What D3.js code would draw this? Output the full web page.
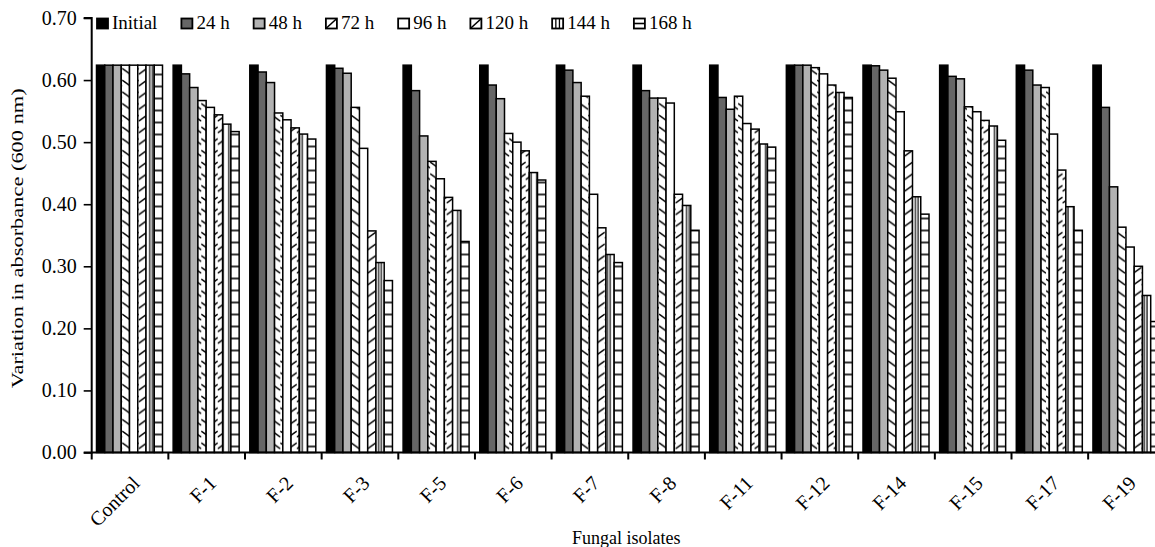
<!DOCTYPE html>
<html>
<head>
<meta charset="utf-8">
<script src="https://cdn.jsdelivr.net/npm/d3@7"></script>
<style>
  html, body { margin: 0; padding: 0; background: #fff; }
  svg { display: block; }
  text { font-family: "Liberation Serif", "Times New Roman", serif; fill: #000; }
</style>
</head>
<body>
<svg id="chart" width="1155" height="547"></svg>
<script>
// ---------- data ----------
const categories = ["Control","F-1","F-2","F-3","F-5","F-6","F-7","F-8","F-11","F-12","F-14","F-15","F-17","F-19"];
const seriesNames = ["Initial","24 h","48 h","72 h","96 h","120 h","144 h","168 h"];
const initialVals = [0.624,0.624,0.624,0.624,0.624,0.624,0.624,0.624,0.624,0.624,0.624,0.624,0.624,0.624];
const h24Vals  = [0.624,0.610,0.613,0.619,0.583,0.592,0.616,0.583,0.572,0.624,0.623,0.606,0.616,0.556];
const h48Vals  = [0.624,0.588,0.596,0.611,0.510,0.570,0.596,0.571,0.553,0.624,0.616,0.602,0.592,0.428];
const h72Vals  = [0.624,0.567,0.547,0.556,0.469,0.514,0.574,0.571,0.574,0.620,0.603,0.557,0.588,0.363];
const h96Vals  = [0.624,0.556,0.536,0.490,0.441,0.500,0.416,0.563,0.530,0.610,0.549,0.549,0.513,0.331];
const h120Vals = [0.624,0.544,0.523,0.357,0.411,0.486,0.362,0.416,0.521,0.592,0.486,0.535,0.455,0.300];
const h144Vals = [0.624,0.529,0.513,0.306,0.390,0.451,0.319,0.398,0.497,0.580,0.412,0.526,0.396,0.253];
const h168Vals = [0.624,0.517,0.505,0.277,0.340,0.439,0.306,0.358,0.492,0.572,0.384,0.503,0.358,0.211];
const yTicks = [0,0.1,0.2,0.3,0.4,0.5,0.6,0.7];
const yTitle = "Variation in absorbance (600 nm)";
const xTitle = "Fungal isolates";

const seriesValues = [initialVals,h24Vals,h48Vals,h72Vals,h96Vals,h120Vals,h144Vals,h168Vals];
// fill style per series
const seriesStyle = ["black","dark","light","diagDown","white","diagUp","vert","horiz"];

// ---------- layout ----------
const svg = d3.select("#chart");
const x0Left = 91.7, bandW = 76.65;
const plotTop = 18, plotBottom = 452.5;

const x = d3.scaleBand().domain(categories)
  .range([x0Left, x0Left + bandW * categories.length]).padding(0);
const xi = d3.scaleBand().domain(seriesNames).range([4.8, 4.8 + 8.25 * 8]).padding(0);
const y = d3.scaleLinear().domain([0, 0.7]).range([plotBottom, plotTop]);

const defs = svg.append("defs");

function fillFor(style, id, bx, bw) {
  if (style === "black") return "#000";
  if (style === "dark") return "#666666";
  if (style === "light") return "#b2b2b2";
  if (style === "white") return "#fff";
  const p = defs.append("pattern").attr("id", id)
    .attr("patternUnits", "userSpaceOnUse").attr("x", bx).attr("y", 0)
    .attr("width", bw);
  if (style === "diagDown" || style === "diagUp") {
    const h = 11.7;
    p.attr("height", h).attr("y", plotBottom);
    p.append("rect").attr("width", bw).attr("height", h).attr("fill", "#fff");
    const path = style === "diagDown" ? `M0,2 L${bw},8` : `M0,8 L${bw},2`;
    p.append("path").attr("d", path).attr("stroke", "#000").attr("stroke-width", 1.6);
  } else if (style === "vert") {
    p.attr("height", 10);
    p.append("rect").attr("width", bw).attr("height", 10).attr("fill", "#fff");
    [bw / 3, 2 * bw / 3].forEach(v => p.append("line")
      .attr("x1", v).attr("x2", v).attr("y1", 0).attr("y2", 10)
      .attr("stroke", "#000").attr("stroke-width", 1.2));
  } else if (style === "horiz") {
    const h = 12;
    p.attr("height", h).attr("y", plotBottom);
    p.append("rect").attr("width", bw).attr("height", h).attr("fill", "#fff");
    p.append("line").attr("x1", 0).attr("x2", bw).attr("y1", 6).attr("y2", 6)
      .attr("stroke", "#000").attr("stroke-width", 1.6);
  }
  return `url(#${id})`;
}

// ---------- bars ----------
const groups = svg.append("g").selectAll("g").data(categories).join("g")
  .attr("transform", d => `translate(${x(d)},0)`);

categories.forEach((cat, ci) => {
  const g = d3.select(groups.nodes()[ci]);
  seriesNames.forEach((s, si) => {
    const v = seriesValues[si][ci];
    const bx = x(cat) + xi(s);
    const bw = xi.bandwidth();
    const fill = fillFor(seriesStyle[si], `p${si}_${ci}`, bx, bw);
    g.append("rect")
      .attr("x", xi(s)).attr("width", bw)
      .attr("y", y(v)).attr("height", y(0) - y(v))
      .attr("fill", fill)
      .attr("stroke", "#000").attr("stroke-width", 1.5);
  });
});

// ---------- axes ----------
const yAxis = d3.axisLeft(y).tickValues(yTicks).tickFormat(d3.format(".2f"))
  .tickSize(8).tickPadding(7);
const gy = svg.append("g").attr("transform", `translate(${x0Left},0)`).call(yAxis);
gy.select(".domain").attr("stroke", "#000").attr("stroke-width", 2).attr("d", `M-8,${plotTop}H0V${plotBottom}H-8`);
gy.selectAll(".tick line").attr("stroke", "#000").attr("stroke-width", 1.6);
gy.selectAll(".tick text").style("font-size", "20px").style("font-family", "Liberation Serif");

const xAxis = d3.axisBottom(x).tickSize(0).tickFormat("");
const gx = svg.append("g").attr("transform", `translate(0,${plotBottom})`).call(xAxis);
gx.select(".domain").attr("stroke", "#000").attr("stroke-width", 2)
  .attr("d", `M${x0Left},0H${x0Left + bandW * categories.length}`);
// boundary ticks
gx.selectAll(".bt").data(categories).join("line").attr("class", "bt")
  .attr("x1", d => x(d)).attr("x2", d => x(d)).attr("y1", 0).attr("y2", 7)
  .attr("stroke", "#000").attr("stroke-width", 2);
// rotated category labels
gx.selectAll(".cl").data(categories).join("text").attr("class", "cl")
  .attr("transform", d => `translate(${x(d) + x.bandwidth() / 2 + 6},${27}) rotate(-45)`)
  .attr("text-anchor", "end").attr("dy", "0.35em")
  .style("font-size", "20px")
  .text(d => d);

// titles
svg.append("text").attr("transform", `translate(17,${(plotTop + plotBottom) / 2 + 3}) rotate(-90)`)
  .attr("text-anchor", "middle").attr("dy", "0.35em").style("font-size", "17px")
  .attr("textLength", 300).attr("lengthAdjust", "spacingAndGlyphs").text(yTitle);
svg.append("text").attr("x", x0Left + bandW * categories.length / 2 - 2).attr("y", 544)
  .attr("text-anchor", "middle").style("font-size", "18px").text(xTitle);

// ---------- legend ----------
const lg = svg.append("g");
let lx = 97;
seriesNames.forEach((s, si) => {
  const item = lg.append("g").attr("transform", `translate(${lx},18.5)`);
  const st = seriesStyle[si];
  let f = "#fff";
  if (st === "black") f = "#000"; else if (st === "dark") f = "#666666"; else if (st === "light") f = "#b2b2b2";
  item.append("rect").attr("width", 11).attr("height", 10).attr("fill", f)
    .attr("stroke", "#000").attr("stroke-width", 1.8);
  if (st === "diagDown" || st === "diagUp")
    item.append("line").attr("x1", 0).attr("y1", 10).attr("x2", 11).attr("y2", 0).attr("stroke", "#000").attr("stroke-width", 1.6);
  if (st === "vert") [3.7, 7.3].forEach(v => item.append("line").attr("x1", v).attr("x2", v).attr("y1", 0).attr("y2", 10).attr("stroke", "#000").attr("stroke-width", 1.3));
  if (st === "horiz") item.append("line").attr("x1", 0).attr("x2", 11).attr("y1", 5).attr("y2", 5).attr("stroke", "#000").attr("stroke-width", 1.6);
  const t = item.append("text").attr("x", 15).attr("y", 10.8).style("font-size", "19px").text(s);
  lx += 15 + t.node().getComputedTextLength() + 24;
});
</script>
</body>
</html>
